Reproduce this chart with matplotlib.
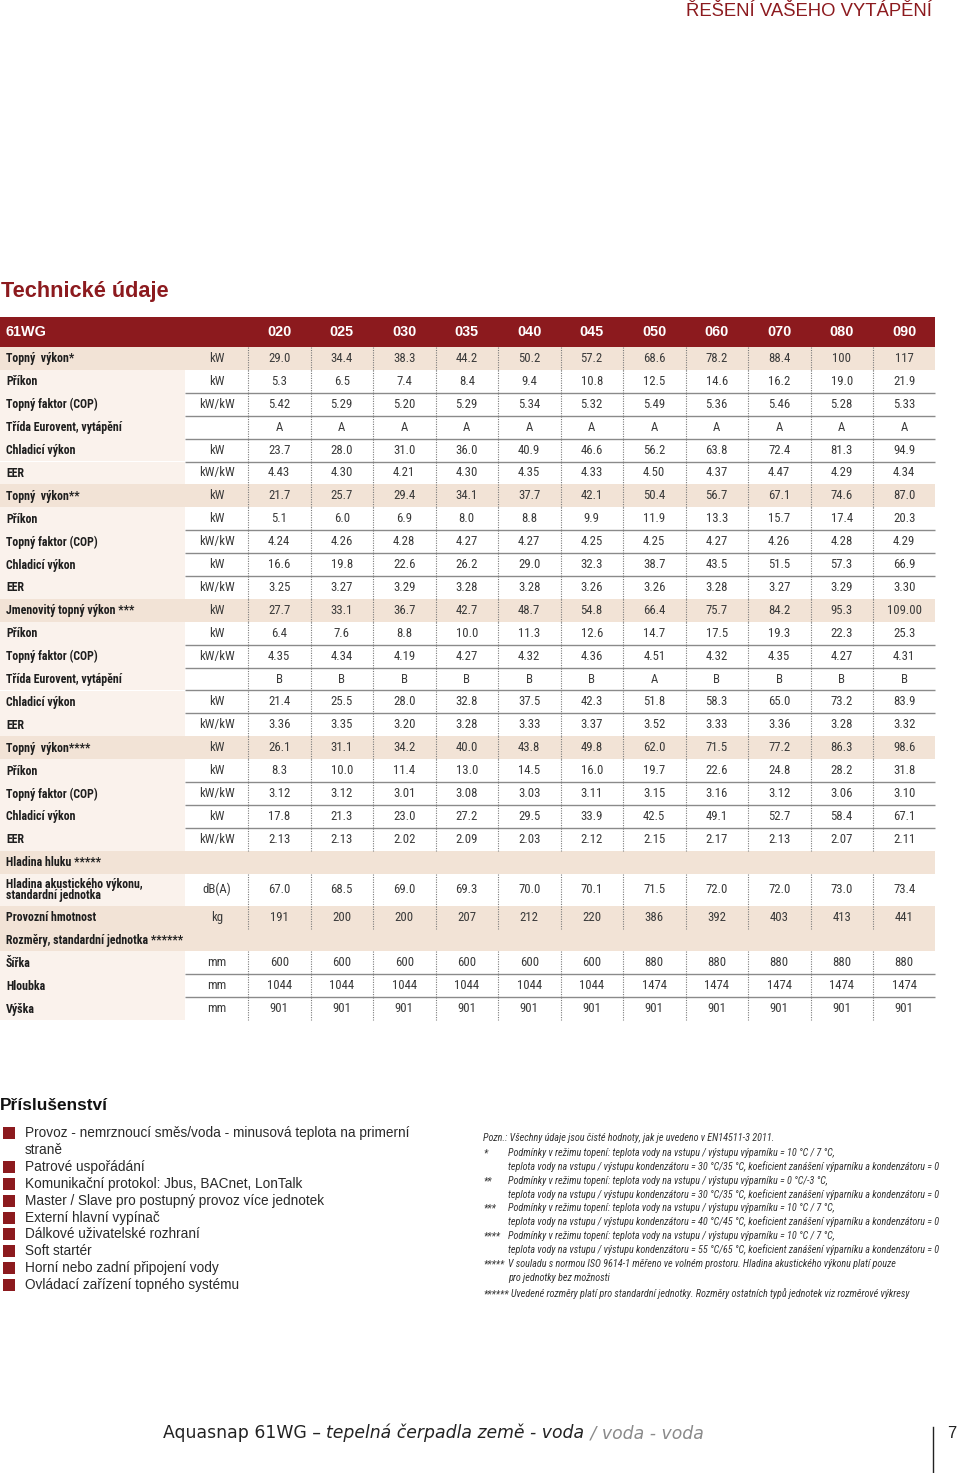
import numpy as np
import matplotlib.pyplot as plt
from matplotlib import font_manager
from matplotlib.patches import Rectangle

# ---- data ----
models = ['020', '025', '030', '035', '040', '045', '050', '060', '070', '080', '090']

row_labels = [
    'Topný  výkon*', 'Příkon', 'Topný faktor (COP)', 'Třída Eurovent, vytápění',
    'Chladicí výkon', 'EER',
    'Topný  výkon**', 'Příkon', 'Topný faktor (COP)', 'Chladicí výkon', 'EER',
    'Jmenovitý topný výkon ***', 'Příkon', 'Topný faktor (COP)', 'Třída Eurovent, vytápění',
    'Chladicí výkon', 'EER',
    'Topný  výkon****', 'Příkon', 'Topný faktor (COP)', 'Chladicí výkon', 'EER',
    'Hladina hluku *****',
    'Hladina akustického výkonu,\nstandardní jednotka',
    'Provozní hmotnost',
    'Rozměry, standardní jednotka ******',
    'Šířka', 'Hloubka', 'Výška',
]

row_units = ['kW', 'kW', 'kW/kW', '', 'kW', 'kW/kW',
             'kW', 'kW', 'kW/kW', 'kW', 'kW/kW',
             'kW', 'kW', 'kW/kW', '', 'kW', 'kW/kW',
             'kW', 'kW', 'kW/kW', 'kW', 'kW/kW',
             '', 'dB(A)', 'kg', '', 'mm', 'mm', 'mm']

row_values = [
    ['29.0', '34.4', '38.3', '44.2', '50.2', '57.2', '68.6', '78.2', '88.4', '100', '117'],
    ['5.3', '6.5', '7.4', '8.4', '9.4', '10.8', '12.5', '14.6', '16.2', '19.0', '21.9'],
    ['5.42', '5.29', '5.20', '5.29', '5.34', '5.32', '5.49', '5.36', '5.46', '5.28', '5.33'],
    ['A', 'A', 'A', 'A', 'A', 'A', 'A', 'A', 'A', 'A', 'A'],
    ['23.7', '28.0', '31.0', '36.0', '40.9', '46.6', '56.2', '63.8', '72.4', '81.3', '94.9'],
    ['4.43', '4.30', '4.21', '4.30', '4.35', '4.33', '4.50', '4.37', '4.47', '4.29', '4.34'],
    ['21.7', '25.7', '29.4', '34.1', '37.7', '42.1', '50.4', '56.7', '67.1', '74.6', '87.0'],
    ['5.1', '6.0', '6.9', '8.0', '8.8', '9.9', '11.9', '13.3', '15.7', '17.4', '20.3'],
    ['4.24', '4.26', '4.28', '4.27', '4.27', '4.25', '4.25', '4.27', '4.26', '4.28', '4.29'],
    ['16.6', '19.8', '22.6', '26.2', '29.0', '32.3', '38.7', '43.5', '51.5', '57.3', '66.9'],
    ['3.25', '3.27', '3.29', '3.28', '3.28', '3.26', '3.26', '3.28', '3.27', '3.29', '3.30'],
    ['27.7', '33.1', '36.7', '42.7', '48.7', '54.8', '66.4', '75.7', '84.2', '95.3', '109.00'],
    ['6.4', '7.6', '8.8', '10.0', '11.3', '12.6', '14.7', '17.5', '19.3', '22.3', '25.3'],
    ['4.35', '4.34', '4.19', '4.27', '4.32', '4.36', '4.51', '4.32', '4.35', '4.27', '4.31'],
    ['B', 'B', 'B', 'B', 'B', 'B', 'A', 'B', 'B', 'B', 'B'],
    ['21.4', '25.5', '28.0', '32.8', '37.5', '42.3', '51.8', '58.3', '65.0', '73.2', '83.9'],
    ['3.36', '3.35', '3.20', '3.28', '3.33', '3.37', '3.52', '3.33', '3.36', '3.28', '3.32'],
    ['26.1', '31.1', '34.2', '40.0', '43.8', '49.8', '62.0', '71.5', '77.2', '86.3', '98.6'],
    ['8.3', '10.0', '11.4', '13.0', '14.5', '16.0', '19.7', '22.6', '24.8', '28.2', '31.8'],
    ['3.12', '3.12', '3.01', '3.08', '3.03', '3.11', '3.15', '3.16', '3.12', '3.06', '3.10'],
    ['17.8', '21.3', '23.0', '27.2', '29.5', '33.9', '42.5', '49.1', '52.7', '58.4', '67.1'],
    ['2.13', '2.13', '2.02', '2.09', '2.03', '2.12', '2.15', '2.17', '2.13', '2.07', '2.11'],
    [],
    ['67.0', '68.5', '69.0', '69.3', '70.0', '70.1', '71.5', '72.0', '72.0', '73.0', '73.4'],
    ['191', '200', '200', '207', '212', '220', '386', '392', '403', '413', '441'],
    [],
    ['600', '600', '600', '600', '600', '600', '880', '880', '880', '880', '880'],
    ['1044', '1044', '1044', '1044', '1044', '1044', '1474', '1474', '1474', '1474', '1474'],
    ['901', '901', '901', '901', '901', '901', '901', '901', '901', '901', '901'],
]

highlight_rows = [0, 6, 11, 17, 22, 24, 25]
section_rows = [22, 25]

accessories = [
    'Provoz - nemrznoucí směs/voda - minusová teplota na primerní\nstraně',
    'Patrové uspořádání',
    'Komunikační protokol: Jbus, BACnet, LonTalk',
    'Master / Slave pro postupný provoz více jednotek',
    'Externí hlavní vypínač',
    'Dálkové uživatelské rozhraní',
    'Soft startér',
    'Horní nebo zadní připojení vody',
    'Ovládací zařízení topného systému',
]

notes_intro = 'Pozn.: Všechny údaje jsou čisté hodnoty, jak je uvedeno v EN14511-3 2011.'
note_marks = ['*', '**', '***', '****', '*****', '******']
note_texts = [
    'Podmínky v režimu topení: teplota vody na vstupu / výstupu výparníku = 10 °C / 7 °C,\n'
    'teplota vody na vstupu / výstupu kondenzátoru = 30 °C/35 °C, koeficient zanášení výparníku a kondenzátoru = 0',
    'Podmínky v režimu topení: teplota vody na vstupu / výstupu výparníku = 0 °C/-3 °C,\n'
    'teplota vody na vstupu / výstupu kondenzátoru = 30 °C/35 °C, koeficient zanášení výparníku a kondenzátoru = 0',
    'Podmínky v režimu topení: teplota vody na vstupu / výstupu výparníku = 10 °C / 7 °C,\n'
    'teplota vody na vstupu / výstupu kondenzátoru = 40 °C/45 °C, koeficient zanášení výparníku a kondenzátoru = 0',
    'Podmínky v režimu topení: teplota vody na vstupu / výstupu výparníku = 10 °C / 7 °C,\n'
    'teplota vody na vstupu / výstupu kondenzátoru = 55 °C/65 °C, koeficient zanášení výparníku a kondenzátoru = 0',
    'V souladu s normou ISO 9614-1 měřeno ve volném prostoru. Hladina akustického výkonu platí pouze\n'
    'pro jednotky bez možnosti',
    'Uvedené rozměry platí pro standardní jednotky. Rozměry ostatních typů jednotek viz rozměrové výkresy',
]

footer_parts = ['Aquasnap 61WG – ', 'tepelná čerpadla země - voda', ' / voda - voda']

# ---- fonts: prefer a narrow face like the printed sheet ----
entries = font_manager.fontManager.ttflist
installed = {f.name for f in entries}
narrow, stretch = None, 'normal'
for cand in ['Liberation Sans Narrow', 'Roboto Condensed', 'Open Sans Condensed',
             'Noto Sans Condensed', 'DejaVu Sans Condensed', 'Arial Narrow']:
    if cand in installed:
        narrow = cand
        break
if narrow is None:
    for cand in ['Roboto', 'Noto Sans', 'Open Sans', 'DejaVu Sans', 'Inter']:
        if any(f.name == cand and str(f.stretch) in ('condensed', 'semi-condensed')
               for f in entries):
            narrow, stretch = cand, 'condensed'
            break
if narrow is None:
    narrow = 'Liberation Sans'

plt.rcParams['font.family'] = [narrow, 'DejaVu Sans']
plt.rcParams['font.stretch'] = stretch

RED = '#8c1a1e'
BEIGE = '#f2e3d6'
PALE = '#faf2ec'
INK = '#1e1e1e'
VAL = '#3a3a3a'

fig = plt.figure(figsize=(9.6, 14.73), dpi=100)
ax = fig.add_axes([0, 0, 1, 1])
ax.set_xlim(0, 960)
ax.set_ylim(1473, 0)
ax.axis('off')
renderer = fig.canvas.get_renderer()


def text_width(s, size, **kw):
    t = ax.text(0, 0, s, fontsize=size, **kw)
    w = t.get_window_extent(renderer).width
    t.remove()
    return w


def fit(s, width, cap, **kw):
    return min(cap, 10 * width / text_width(s, 10, **kw))


label_fs = fit('Jmenovitý topný výkon ***', 129, 9.5, fontweight='bold')
val_fs = fit('29.0', 22, 11)
head_fs = fit('020', 24, 11, fontweight='bold', family='Liberation Sans')
note_fs = fit(note_texts[0].split('\n')[1], 431, 8, style='italic')
bullet_fs = fit(accessories[3], 298, 11, family='Liberation Sans')

# page header and title
ax.text(932, 12, 'ŘEŠENÍ VAŠEHO VYTÁPĚNÍ', ha='right', va='center',
        fontsize=fit('ŘEŠENÍ VAŠEHO VYTÁPĚNÍ', 246, 14, family='Liberation Sans'),
        color=RED, family='Liberation Sans')
ax.text(1, 291, 'Technické údaje', ha='left', va='center',
        fontsize=fit('Technické údaje', 168, 16, fontweight='bold', family='Liberation Sans'),
        fontweight='bold', color=RED, family='Liberation Sans')

# table geometry
table_right = 935
label_w = 185
unit_mid = 217
data_x0 = 248
col_w = 62.5
head_top, head_h = 317, 30

n_rows = len(row_labels)
row_h = np.full(n_rows, 22.9)
row_h[23] = 32
row_top = head_top + head_h + np.concatenate([[0], np.cumsum(row_h)[:-1]])
col_left = data_x0 + col_w * np.arange(len(models))
col_mid = col_left + col_w / 2

# header row
ax.add_patch(Rectangle((0, head_top), table_right, head_h, color=RED, lw=0))
ax.text(6, head_top + head_h / 2, '61WG', ha='left', va='center',
        fontsize=head_fs, fontweight='bold', color='white', family='Liberation Sans')
for x, m in zip(col_mid, models):
    ax.text(x, head_top + head_h / 2, m, ha='center', va='center',
            fontsize=head_fs, fontweight='bold', color='white', family='Liberation Sans')

# body rows
for i in range(n_rows):
    top, h = row_top[i], row_h[i]
    mid = top + h / 2
    if i in highlight_rows:
        ax.add_patch(Rectangle((0, top), table_right, h, color=BEIGE, lw=0))
    else:
        ax.add_patch(Rectangle((0, top), label_w, h, color=PALE, lw=0))
    ax.text(6, mid + 0.5, row_labels[i], ha='left', va='center', fontsize=label_fs,
            fontweight='bold', color=INK, linespacing=0.85)
    ax.text(unit_mid, mid, row_units[i], ha='center', va='center',
            fontsize=val_fs, color=VAL)
    for x, v in zip(col_mid, row_values[i]):
        ax.text(x, mid, v, ha='center', va='center', fontsize=val_fs, color=VAL)
    if i not in section_rows:
        ax.vlines(col_left, top, top + h, colors='#7a7a7a', lw=0.8,
                  linestyles=(0, (1, 1.2)))
    if i + 1 < n_rows and i not in highlight_rows and (i + 1) not in highlight_rows:
        ax.hlines(top + h, label_w, table_right, colors='#8a8a8a', lw=1.0)

# accessories
ax.text(0, 1105, 'Příslušenství', ha='left', va='center',
        fontsize=fit('Příslušenství', 108, 13, fontweight='bold', family='Liberation Sans'),
        fontweight='bold', color='#111111', family='Liberation Sans')
line_step = 16.9
y = 1133
for item in accessories:
    ax.add_patch(Rectangle((3, y - 6), 12, 12, color=RED, lw=0))
    for part in item.split('\n'):
        ax.text(25, y, part, ha='left', va='center', fontsize=bullet_fs,
                color='#2a2a2a', family='Liberation Sans')
        y += line_step

# notes
ax.text(483, 1138, notes_intro, ha='left', va='center', fontsize=note_fs,
        style='italic', color='#333333')
note_y = [1153, 1181, 1208, 1236, 1264, 1294]
for yy, mk, txt in zip(note_y, note_marks, note_texts):
    tx = 508
    if len(mk) == 6:
        tx = 483 + text_width(mk + ' ', note_fs, style='italic')
    ax.text(483, yy, mk, ha='left', va='center', fontsize=note_fs, style='italic',
            color='#333333')
    for k, part in enumerate(txt.split('\n')):
        ax.text(tx, yy + 13.5 * k, part, ha='left', va='center', fontsize=note_fs,
                style='italic', color='#333333')

# footer
foot_styles = ['normal', 'italic', 'italic']
foot_colors = ['#222222', '#222222', '#8a8a8a']
total = sum(text_width(p, 10, family='DejaVu Sans', style=s)
            for p, s in zip(footer_parts, foot_styles))
foot_fs = 10 * 540 / total
fx = 163
for part, st, c in zip(footer_parts, foot_styles, foot_colors):
    t = ax.text(fx, 1433, part, ha='left', va='center', fontsize=foot_fs,
                family='DejaVu Sans', style=st, color=c)
    fx += t.get_window_extent(renderer).width
ax.plot([933, 933], [1427, 1473], color='#222222', lw=1)
ax.text(952, 1434, '7', ha='center', va='center', fontsize=12,
        color='#222222', family='Liberation Sans')

fig.savefig('out.png', dpi=100)
